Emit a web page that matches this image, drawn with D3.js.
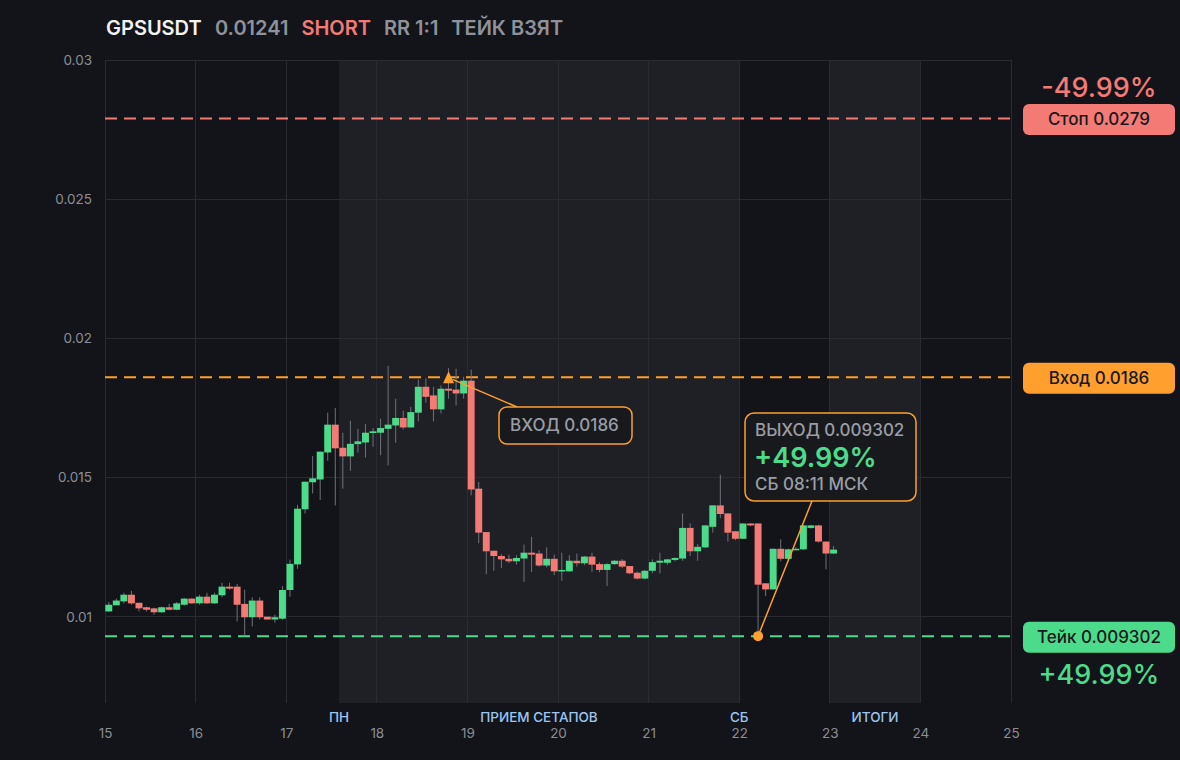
<!DOCTYPE html>
<html><head><meta charset="utf-8">
<script src="https://cdn.jsdelivr.net/npm/d3@7"></script>
<style>
html,body{margin:0;padding:0;background:#131419;}
svg{display:block;font-family:Inter,"Noto Sans",sans-serif;}
</style></head>
<body><svg id="c" width="1180" height="760"></svg>
<script>
// ---- data ----
const symbol = "GPSUSDT";
const lastPrice = "0.01241";
const side = "SHORT";
const rr = "RR 1:1";
const status = "ТЕЙК ВЗЯТ";
const startDay = 15;
const candlesPerDay = 12; // 2h candles
const open = [
0.01019,0.01041,0.01055,0.01079,0.0105,0.01034,0.0103,0.01016,0.01034,0.01025,
0.01043,0.01065,0.01048,0.01072,0.01048,0.01077,0.01108,0.01108,0.01046,0.00998,
0.01058,0.01,0.0099,0.00993,0.01096,0.01188,0.01386,0.01483,0.01493,0.0159,
0.0169,0.01607,0.01576,0.0162,0.01626,0.0166,0.01661,0.01675,0.01687,0.01714,
0.0168,0.01733,0.01826,0.01795,0.01745,0.01819,0.01816,0.01802,0.01848,0.0146,
0.01304,0.01237,0.01218,0.01208,0.01199,0.01209,0.0123,0.01227,0.01184,0.01208,
0.01163,0.01163,0.01201,0.01192,0.01216,0.01189,0.01168,0.01189,0.01201,0.01182,
0.01158,0.01137,0.01165,0.01194,0.01194,0.01204,0.01209,0.01319,0.01235,0.01249,
0.01323,0.014,0.01371,0.01307,0.0128,0.01335,0.01335,0.0112,0.01098,0.01244,
0.01208,0.01242,0.01242,0.01319,0.01328,0.0127,0.01227];
const close = [
0.01043,0.01058,0.01079,0.01048,0.0103,0.01025,0.01016,0.01034,0.01025,0.01048,
0.01065,0.01048,0.01072,0.01048,0.01079,0.01108,0.01101,0.01043,0.00998,0.01058,
0.00998,0.0099,0.00998,0.01096,0.0119,0.01388,0.01485,0.01497,0.01593,0.0169,
0.01605,0.01576,0.01621,0.0163,0.01661,0.01666,0.01678,0.0169,0.01714,0.0168,
0.01735,0.01826,0.0179,0.01745,0.01819,0.01812,0.01802,0.01848,0.01457,0.01302,
0.01235,0.01218,0.01206,0.01199,0.01211,0.0123,0.01223,0.01184,0.01208,0.01163,
0.01168,0.01201,0.01192,0.01216,0.01187,0.01168,0.01189,0.01201,0.0118,0.01156,
0.01137,0.01165,0.01196,0.01201,0.01206,0.01211,0.01319,0.01235,0.01251,0.01328,
0.014,0.01369,0.01302,0.0128,0.01335,0.01328,0.01115,0.01098,0.01244,0.01208,
0.01242,0.01244,0.01328,0.01328,0.0127,0.01227,0.01241];
const high = [
0.01053,0.01065,0.01086,0.01093,0.0105,0.01036,0.01032,0.01036,0.01046,0.01053,
0.01067,0.01067,0.01079,0.01086,0.01086,0.01122,0.01122,0.01118,0.01097,0.0107,
0.0107,0.01,0.01007,0.0111,0.01205,0.01402,0.01485,0.01577,0.01593,0.01733,
0.0175,0.01661,0.01704,0.01675,0.01692,0.01678,0.01711,0.01901,0.01783,0.0174,
0.01754,0.01852,0.01857,0.01826,0.01831,0.01893,0.01891,0.01862,0.01888,0.01484,
0.01304,0.01237,0.01225,0.01223,0.01221,0.01259,0.01287,0.01239,0.01249,0.01223,
0.0123,0.01221,0.01227,0.01218,0.0123,0.01196,0.01192,0.01204,0.01207,0.01182,
0.01163,0.01168,0.01206,0.0123,0.01208,0.01213,0.01371,0.01335,0.01261,0.01328,
0.014,0.0151,0.01371,0.01307,0.01335,0.01335,0.01335,0.0112,0.01244,0.01278,
0.01245,0.01249,0.0133,0.0133,0.0133,0.0127,0.01254];
const low = [
0.01017,0.01041,0.01048,0.01043,0.01019,0.01019,0.01007,0.01013,0.01023,0.01023,
0.0104,0.01046,0.01043,0.01046,0.01046,0.0107,0.01097,0.00983,0.00932,0.00965,
0.0099,0.0099,0.00979,0.0099,0.01072,0.01172,0.01371,0.01443,0.01419,0.0156,
0.014,0.0146,0.01524,0.0159,0.01572,0.01611,0.0158,0.01544,0.01625,0.01673,
0.0168,0.01702,0.01769,0.01702,0.0173,0.01783,0.01759,0.01783,0.01436,0.01264,
0.01153,0.01165,0.01175,0.01193,0.01187,0.01125,0.01161,0.0118,0.01177,0.01149,
0.01129,0.01161,0.0118,0.01185,0.01161,0.0116,0.0111,0.01185,0.01175,0.01153,
0.01134,0.01134,0.01156,0.01156,0.01187,0.01199,0.01201,0.01218,0.01201,0.01247,
0.01302,0.01354,0.0127,0.01275,0.0128,0.01325,0.009302,0.01074,0.01098,0.01199,
0.01204,0.0124,0.0124,0.01316,0.01266,0.0117,0.01225];

const xTicks = [15,16,17,18,19,20,21,22,23,24,25];
const yTicks = [0.01,0.015,0.02,0.025,0.03];
const yTickLabels = ["0.01","0.015","0.02","0.025","0.03"];
const bands = [[17.583,22],[23,24]];
const bandLabels = [
  {t:17.583, text:"ПН"},
  {t:19.79, text:"ПРИЕМ СЕТАПОВ"},
  {t:22, text:"СБ"},
  {t:23.5, text:"ИТОГИ"}];
const stopPrice = 0.0279, entryPrice = 0.0186, takePrice = 0.009302;
const stopLabel = "Стоп 0.0279", entryLabel = "Вход 0.0186", takeLabel = "Тейк 0.009302";
const stopPct = "-49.99%", takePct = "+49.99%";
const entryIndex = 45;
const exitIndex = 86;
const entryText = "ВХОД 0.0186";
const exitLines = ["ВЫХОД 0.009302","+49.99%","СБ 08:11 МСК"];

// ---- styles ----
const C = {
  bg:"#131419", band:"#1f2025", grid:"#2a2b31", axisText:"#8b8e96",
  bandText:"#9cc6f2", green:"#4cdb8a", red:"#f47a76", orange:"#ff9f2e",
  wick:"#6f727a", gray:"#9a9da5", white:"#eeeeee", dark:"#18191d"
};

const svg = d3.select("#c");
svg.append("rect").attr("width",1180).attr("height",760).attr("fill",C.bg);

const L = 105, R = 1011, T = 60, B = 703;
const x = d3.scaleLinear().domain([15,25]).range([L,R]);
const y = d3.scaleLinear().domain([0.0069,0.03]).range([B,T]);

// bands
svg.append("g").selectAll("rect").data(bands).join("rect")
  .attr("x",d=>x(d[0])).attr("width",d=>x(d[1])-x(d[0]))
  .attr("y",T).attr("height",B-T).attr("fill",C.band);

// grid
svg.append("g").selectAll("line").data(xTicks).join("line")
  .attr("x1",d=>x(d)).attr("x2",d=>x(d)).attr("y1",T).attr("y2",B)
  .attr("stroke",C.grid).attr("stroke-width",1).attr("shape-rendering","crispEdges");
svg.append("g").selectAll("line").data(yTicks).join("line")
  .attr("x1",L).attr("x2",R).attr("y1",d=>y(d)).attr("y2",d=>y(d))
  .attr("stroke",C.grid).attr("stroke-width",1).attr("shape-rendering","crispEdges");

// axes labels via d3 axes
const yAxis = d3.axisLeft(y).tickValues(yTicks).tickFormat((d,i)=>yTickLabels[i]).tickSize(0).tickPadding(13);
const gy = svg.append("g").attr("transform",`translate(${L},0)`).call(yAxis);
gy.select(".domain").remove();
gy.selectAll("text").attr("fill",C.axisText).style("font-size","13.5px").style("font-family","Inter");

const xAxis = d3.axisBottom(x).tickValues(xTicks).tickFormat(d3.format("d")).tickSize(0).tickPadding(0);
const gx = svg.append("g").attr("transform",`translate(0,728)`).call(xAxis);
gx.select(".domain").remove();
gx.selectAll("text").attr("fill",C.axisText).style("font-size","13.5px").style("font-family","Inter");

svg.append("g").selectAll("text").data(bandLabels).join("text")
  .attr("x",d=>x(d.t)).attr("y",722).attr("text-anchor","middle")
  .attr("fill",C.bandText).style("font-size","13.5px").style("font-weight",500)
  .text(d=>d.text);

// level lines
const levels = [[stopPrice,C.red],[entryPrice,C.orange],[takePrice,C.green]];
svg.append("g").selectAll("line").data(levels).join("line")
  .attr("x1",L).attr("x2",R).attr("y1",d=>y(d[0])).attr("y2",d=>y(d[0]))
  .attr("stroke",d=>d[1]).attr("stroke-width",2).attr("stroke-dasharray","12 7");

// candles
const step = 1/candlesPerDay;
const candles = open.map((o,i)=>({i,t:startDay+i*step,o,c:close[i],h:high[i],l:low[i]}));
const cw = x(startDay+step)-x(startDay);
const gc = svg.append("g");
gc.selectAll("line").data(candles).join("line")
  .attr("x1",d=>x(d.t+step/2)).attr("x2",d=>x(d.t+step/2))
  .attr("y1",d=>y(d.h)).attr("y2",d=>y(d.l))
  .attr("stroke",C.wick).attr("stroke-width",1);
gc.selectAll("rect").data(candles).join("rect")
  .attr("x",d=>x(d.t)+0.3).attr("width",cw-0.6)
  .attr("y",d=>y(Math.max(d.o,d.c)))
  .attr("height",d=>Math.max(1.5,Math.abs(y(d.o)-y(d.c))))
  .attr("fill",d=>d.c>=d.o?C.green:C.red);

// entry marker + callout
const ex = x(startDay+entryIndex*step+step/2), ey = y(entryPrice);
const boxE = {x:499,y:407,w:133,h:37};
svg.append("line").attr("x1",ex+4).attr("y1",ey+2).attr("x2",boxE.x+18).attr("y2",boxE.y)
  .attr("stroke",C.orange).attr("stroke-width",1.5);
svg.append("path").attr("d",`M${ex},${ey-6} L${ex+5.5},${ey+6} L${ex-5.5},${ey+6} Z`).attr("fill",C.orange);
svg.append("rect").attr("x",boxE.x).attr("y",boxE.y).attr("width",boxE.w).attr("height",boxE.h)
  .attr("rx",8).attr("fill",C.dark).attr("stroke",C.orange).attr("stroke-width",1.5);
svg.append("text").attr("x",boxE.x+11).attr("y",boxE.y+24).attr("fill",C.gray)
  .style("font-size","17px").style("font-weight",500).text(entryText);

// exit marker + callout
const xx = x(startDay+exitIndex*step+step/2), xy = y(takePrice);
const boxX = {x:745,y:413,w:171,h:88};
svg.append("line").attr("x1",xx).attr("y1",xy).attr("x2",812).attr("y2",boxX.y+boxX.h)
  .attr("stroke",C.orange).attr("stroke-width",1.5);
svg.append("circle").attr("cx",xx).attr("cy",xy).attr("r",5).attr("fill",C.orange);
svg.append("rect").attr("x",boxX.x).attr("y",boxX.y).attr("width",boxX.w).attr("height",boxX.h)
  .attr("rx",9).attr("fill",C.dark).attr("stroke",C.orange).attr("stroke-width",1.5);
svg.append("text").attr("x",boxX.x+10).attr("y",boxX.y+23).attr("fill",C.gray)
  .style("font-size","17px").style("font-weight",500).text(exitLines[0]);
svg.append("text").attr("x",boxX.x+9).attr("y",boxX.y+54).attr("fill",C.green)
  .style("font-size","27px").style("font-weight",600).text(exitLines[1]);
svg.append("text").attr("x",boxX.x+10).attr("y",boxX.y+77).attr("fill",C.gray)
  .style("font-size","17px").style("font-weight",500).text(exitLines[2]);

// right badges
const badges = [[stopPrice,stopLabel,C.red],[entryPrice,entryLabel,C.orange],[takePrice,takeLabel,C.green]];
const bx = 1023, bw = 152, bh = 31, bcx = bx+bw/2;
const gb = svg.append("g").selectAll("g").data(badges).join("g");
gb.append("rect").attr("x",bx).attr("y",d=>y(d[0])-bh/2+1).attr("width",bw).attr("height",bh)
  .attr("rx",6).attr("fill",d=>d[2]);
gb.append("text").attr("x",bcx).attr("y",d=>y(d[0])+7).attr("text-anchor","middle")
  .attr("fill","#17181c").style("font-size","17px").style("font-weight",500).text(d=>d[1]);
svg.append("text").attr("x",bcx).attr("y",97).attr("text-anchor","middle").attr("fill",C.red)
  .style("font-size","27px").style("font-weight",500).text(stopPct);
svg.append("text").attr("x",bcx).attr("y",684).attr("text-anchor","middle").attr("fill",C.green)
  .style("font-size","27px").style("font-weight",500).text(takePct);

// title
const title = svg.append("text").attr("x",106).attr("y",35).style("font-size","20px").style("font-weight",600);
title.append("tspan").attr("fill","#f2f2f2").text(symbol);
title.append("tspan").attr("dx",14).attr("fill","#8f929a").text(lastPrice);
title.append("tspan").attr("dx",13).attr("fill",C.red).text(side);
title.append("tspan").attr("dx",13).attr("fill","#8f929a").text(rr);
title.append("tspan").attr("dx",13).attr("fill","#8f929a").text(status);
</script>
</body></html>
